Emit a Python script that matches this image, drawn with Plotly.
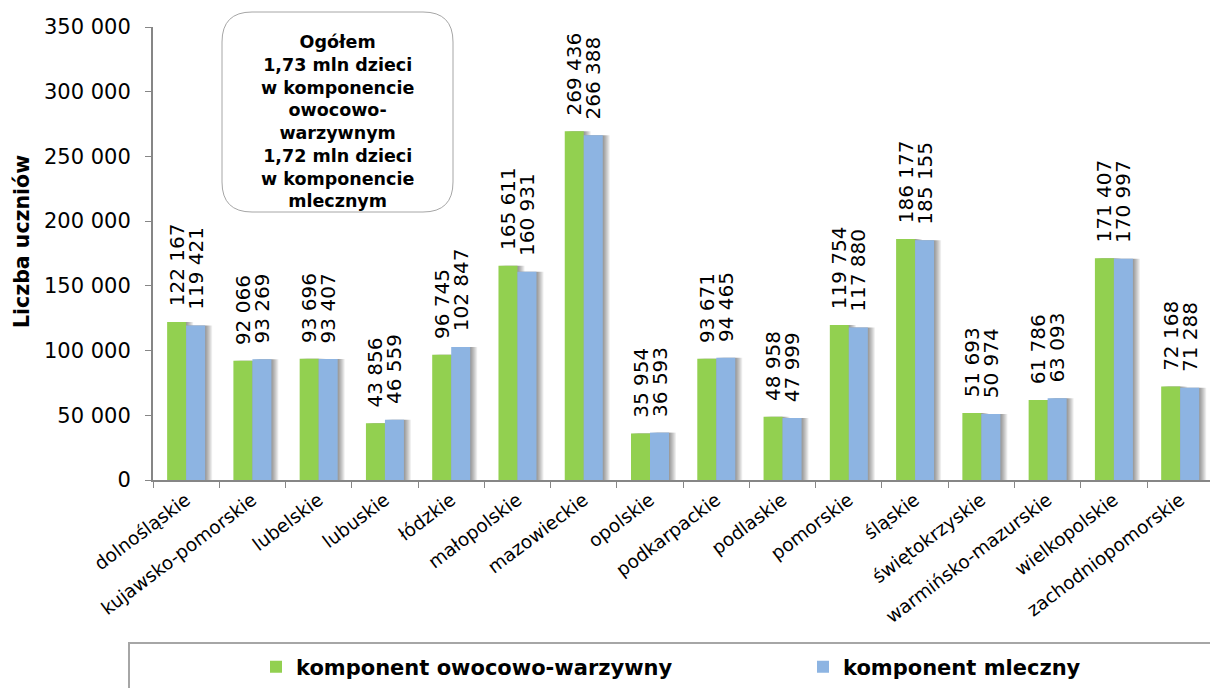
import plotly.graph_objects as go

# Województwa i liczba uczniów w obu komponentach programu
wojewodztwa = [
    "dolnośląskie", "kujawsko-pomorskie", "lubelskie", "lubuskie", "łódzkie",
    "małopolskie", "mazowieckie", "opolskie", "podkarpackie", "podlaskie",
    "pomorskie", "śląskie", "świętokrzyskie", "warmińsko-mazurskie",
    "wielkopolskie", "zachodniopomorskie",
]
owocowo_warzywny = [122167, 92066, 93696, 43856, 96745, 165611, 269436, 35954,
                    93671, 48958, 119754, 186177, 51693, 61786, 171407, 72168]
mleczny = [119421, 93269, 93407, 46559, 102847, 160931, 266388, 36593,
           94465, 47999, 117880, 185155, 50974, 63093, 170997, 71288]

y_ticks = [0, 50000, 100000, 150000, 200000, 250000, 300000, 350000]

GREEN = "#92D050"
BLUE = "#8DB4E2"
FONT = "DejaVu Sans"

# geometry of the figure (pixels)
W, H = 1210, 688
M_L, M_T, M_B, M_R = 153, 27, 208, 0
PLOT_W = W - M_L - M_R
PLOT_H = H - M_T - M_B
X_RANGE = [-0.5, 15.45]
CAT_PX = PLOT_W / (X_RANGE[1] - X_RANGE[0])
BAR_W = 19 / CAT_PX  # bar width in category units


def px_x(px):
    return (px - M_L) / PLOT_W


def px_y(py):
    return (H - M_B - py) / PLOT_H


fig = go.Figure()

# soft drop shadow to the right of every bar
for vals, off in ((owocowo_warzywny, -BAR_W), (mleczny, 0.0)):
    for d in range(1, 8):
        fig.add_trace(go.Bar(
            x=wojewodztwa, y=vals, offset=off + d / CAT_PX, width=BAR_W,
            marker=dict(color="rgba(0,0,0,0.065)", line=dict(width=0)),
            showlegend=False, hoverinfo="skip",
        ))

label_tmpl = "\u00a0\u00a0%{y:,d}"
fig.add_trace(go.Bar(
    name="komponent owocowo-warzywny", x=wojewodztwa, y=owocowo_warzywny,
    offset=-BAR_W, width=BAR_W, legend="legend",
    marker=dict(color=GREEN, line=dict(width=0)),
    texttemplate=label_tmpl, textposition="outside", textangle=-90,
    constraintext="none", cliponaxis=False,
    textfont=dict(family=FONT, size=20, color="#000000"),
))
fig.add_trace(go.Bar(
    name="komponent mleczny", x=wojewodztwa, y=mleczny,
    offset=0.0, width=BAR_W, legend="legend2",
    marker=dict(color=BLUE, line=dict(width=0)),
    texttemplate=label_tmpl, textposition="outside", textangle=-90,
    constraintext="none", cliponaxis=False,
    textfont=dict(family=FONT, size=20, color="#000000"),
))

# rounded summary box
bx0, bx1, by0, by1, r = 222, 453, 12, 212, 30
box_path = (
    f"M {px_x(bx0 + r)},{px_y(by0)} L {px_x(bx1 - r)},{px_y(by0)} "
    f"Q {px_x(bx1)},{px_y(by0)} {px_x(bx1)},{px_y(by0 + r)} "
    f"L {px_x(bx1)},{px_y(by1 - r)} "
    f"Q {px_x(bx1)},{px_y(by1)} {px_x(bx1 - r)},{px_y(by1)} "
    f"L {px_x(bx0 + r)},{px_y(by1)} "
    f"Q {px_x(bx0)},{px_y(by1)} {px_x(bx0)},{px_y(by1 - r)} "
    f"L {px_x(bx0)},{px_y(by0 + r)} "
    f"Q {px_x(bx0)},{px_y(by0)} {px_x(bx0 + r)},{px_y(by0)} Z"
)
fig.add_shape(type="path", path=box_path, xref="paper", yref="paper",
              line=dict(color="#a6a6a6", width=1), fillcolor="white", layer="above")
fig.add_annotation(
    xref="paper", yref="paper", x=px_x((bx0 + bx1) / 2), y=px_y(122),
    xanchor="center", yanchor="middle", showarrow=False, align="center",
    text=("Ogółem<br>1,73 mln dzieci<br>w komponencie<br>owocowo-<br>warzywnym<br>"
          "1,72 mln dzieci<br>w komponencie<br>mlecznym"),
    font=dict(family=FONT, size=17.5, color="#000000", weight="bold"),
)

# y-axis title
fig.add_annotation(
    xref="paper", yref="paper", x=px_x(22), y=px_y(242),
    xanchor="center", yanchor="middle", showarrow=False, textangle=-90,
    text="Liczba uczniów",
    font=dict(family=FONT, size=20.5, color="#000000", weight="bold"),
)

# frame around the legend
fig.add_shape(type="rect", xref="paper", yref="paper",
              x0=px_x(129), x1=px_x(1220), y0=px_y(643), y1=px_y(700),
              line=dict(color="#a6a6a6", width=2), fillcolor="rgba(0,0,0,0)")

legend_style = dict(
    orientation="h", xanchor="left", yanchor="middle", y=px_y(667),
    font=dict(family=FONT, size=21, color="#000000", weight="bold"),
    bgcolor="rgba(0,0,0,0)", borderwidth=0,
)

fig.update_layout(
    width=W, height=H,
    margin=dict(l=M_L, r=M_R, t=M_T, b=M_B, autoexpand=False),
    paper_bgcolor="white", plot_bgcolor="white",
    barmode="overlay",
    separators=", ",
    font=dict(family=FONT, color="#000000"),
    showlegend=True,
    legend=dict(x=px_x(256), **legend_style),
    legend2=dict(x=px_x(803), **legend_style),
    xaxis=dict(
        type="category", range=X_RANGE,
        showline=True, linecolor="#868686", linewidth=2,
        ticks="outside", tickson="boundaries", ticklen=6, tickcolor="#868686", tickwidth=1,
        tickangle=-37, tickfont=dict(family=FONT, size=18.5, color="#000000"),
        showgrid=False, zeroline=False,
    ),
    yaxis=dict(
        range=[0, 350000], tickvals=y_ticks, tickformat=",d",
        showline=True, linecolor="#868686", linewidth=2,
        ticks="outside", ticklen=6, tickcolor="#868686", tickwidth=1,
        ticklabelstandoff=10,
        tickfont=dict(family=FONT, size=21, color="#000000"),
        showgrid=False, zeroline=False,
    ),
)

fig.write_html("out.html")
